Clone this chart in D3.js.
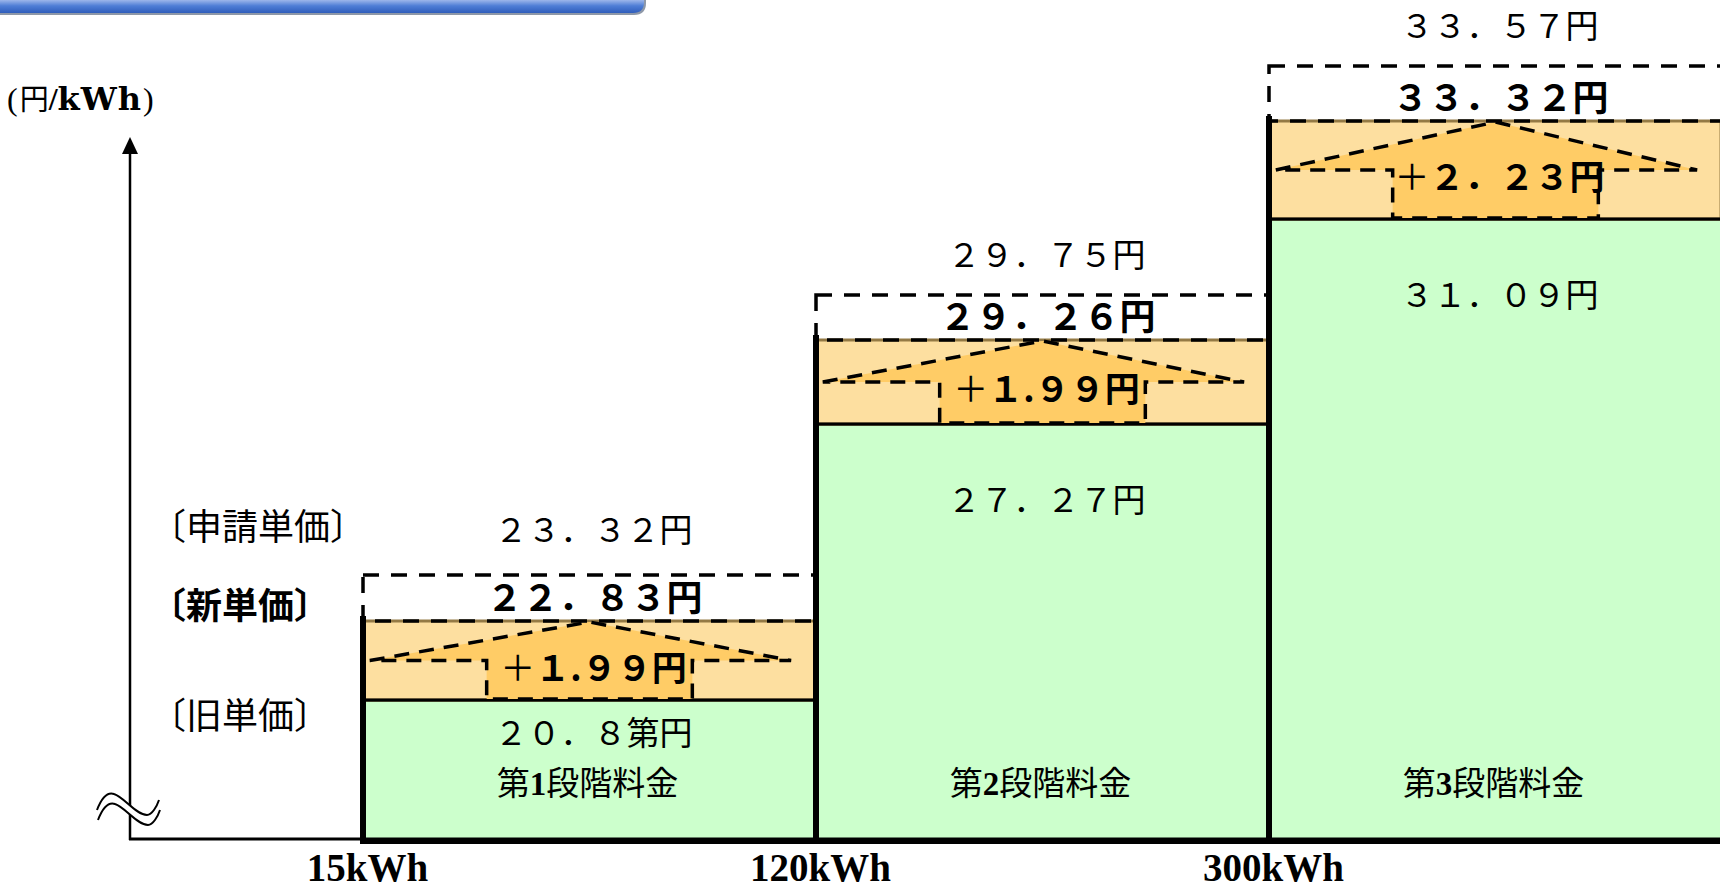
<!DOCTYPE html>
<html><head><meta charset="utf-8">
<script src="https://cdn.jsdelivr.net/npm/d3@7"></script>
<style>html,body{margin:0;padding:0;background:#fff;overflow:hidden}</style>
</head><body><svg id="c" width="1720" height="890"></svg>
<script>
// ---------- data ----------
const tiers = ["第1段階料金", "第2段階料金", "第3段階料金"];
const tierNums = ["1", "2", "3"];
const tierLimits = ["15kWh", "120kWh", "300kWh"];
const oldPrice = [20.84, 27.27, 31.09];        // 旧単価
const newPrice = [22.83, 29.26, 33.32];        // 新単価
const requestedPrice = [23.32, 29.75, 33.57];  // 申請単価
const oldLabels = ["２０．８第円", "２７．２７円", "３１．０９円"];
const newLabels = ["２２．８３円", "２９．２６円", "３３．３２円"];
const requestedLabels = ["２３．３２円", "２９．７５円", "３３．５７円"];
const increaseLabels = ["１.９９円", "１.９９円", "２．２３円"];
const rowLabels = ["〔申請単価〕", "〔新単価〕", "〔旧単価〕"];
const axisFloor = 17; // value at the broken baseline (≈)

// ---------- layout ----------
const W = 1720, H = 890;
const X0 = 363, BW = 453;
const BASE = 839;
const CJK = "'Noto Sans CJK JP','Noto Sans',sans-serif";
const SERIF = "'Liberation Serif','DejaVu Serif',serif";
const GREEN = "#CCFFCC", ORANGE = "#FDDFA0", ARROW = "#FFCC66", BROWN = "#947A45";

const svg = d3.select("#c");

// schematic (piecewise) value scale, as in the original figure
const levels = [axisFloor, ...oldPrice, ...newPrice, ...requestedPrice].sort((a, b) => a - b);
const y = d3.scaleLinear().domain(levels).range([BASE, 700, 621, 575, 424, 340, 295, 219, 121, 66]);
const x = d3.scaleBand().domain(tiers).range([X0, X0 + BW * 3]).padding(0);
const xLim = d3.scalePoint().domain(tierLimits).range([X0, X0 + BW * 2]);

const rows = tiers.map((t, i) => ({
  t, i, num: tierNums[i], o: oldPrice[i], n: newPrice[i], r: requestedPrice[i],
  ol: oldLabels[i], nl: newLabels[i], rl: requestedLabels[i], il: increaseLabels[i]
}));

// ---------- header bar ----------
const defs = svg.append("defs");
const g = defs.append("linearGradient").attr("id", "hdr").attr("x1", 0).attr("y1", 0).attr("x2", 0).attr("y2", 1);
g.append("stop").attr("offset", "0%").attr("stop-color", "#9DB6EA");
g.append("stop").attr("offset", "45%").attr("stop-color", "#4F7ED6");
g.append("stop").attr("offset", "100%").attr("stop-color", "#2F5DBB");
svg.append("path").attr("d", "M0,0 H646 V3 Q646,15 634,15 H0 Z").attr("fill", "#8E98A8");
svg.append("path").attr("d", "M0,0 H644 V2 Q644,13 633,13 H0 Z").attr("fill", "url(#hdr)");

// ---------- y axis ----------
svg.append("line").attr("x1", 130).attr("x2", 130).attr("y1", BASE + 1).attr("y2", 150)
  .attr("stroke", "#000").attr("stroke-width", 2.5);
svg.append("path").attr("d", "M130,137 L122,154 L138,154 Z").attr("fill", "#000");
svg.append("line").attr("x1", 129).attr("x2", X0).attr("y1", BASE).attr("y2", BASE)
  .attr("stroke", "#000").attr("stroke-width", 3);

// break symbol
const up = "M97,810 C102,797 108,792 114,794 C124,797 136,815 147,815 C152,815 157,806 159,800";
const lo = "M98,820 C103,807 109,802 115,804 C125,807 137,825 148,825 C153,825 158,816 160,810";
svg.append("path").attr("d", up + " L160,810 C158,816 153,825 148,825 C137,825 125,807 115,804 C109,802 103,807 98,820 Z")
  .attr("fill", "#fff");
svg.append("path").attr("d", up).attr("fill", "none").attr("stroke", "#000").attr("stroke-width", 2);
svg.append("path").attr("d", lo).attr("fill", "none").attr("stroke", "#000").attr("stroke-width", 2);

// ---------- bars ----------
const bars = svg.append("g");
bars.selectAll("rect.old").data(rows).join("rect").attr("class", "old")
  .attr("x", d => x(d.t)).attr("width", x.bandwidth())
  .attr("y", d => y(d.o)).attr("height", d => y(axisFloor) - y(d.o))
  .attr("fill", GREEN).attr("stroke", "#000").attr("stroke-width", 3);
bars.selectAll("rect.new").data(rows).join("rect").attr("class", "new")
  .attr("x", d => x(d.t) + 1).attr("width", x.bandwidth() - 2)
  .attr("y", d => y(d.n)).attr("height", d => y(d.o) - y(d.n))
  .attr("fill", ORANGE).attr("stroke", BROWN).attr("stroke-width", 3);
bars.selectAll("line.sep").data(rows).join("line").attr("class", "sep")
  .attr("x1", d => x(d.t)).attr("x2", d => x(d.t) + x.bandwidth())
  .attr("y1", d => y(d.o)).attr("y2", d => y(d.o))
  .attr("stroke", "#000").attr("stroke-width", 3);

// up arrows (increase)
const arrowPts = d => {
  const x0 = x(d.t), w = x.bandwidth(), cx = x0 + w / 2;
  const yt = y(d.n) + 1, yb = y(d.o) - 1, ym = (y(d.n) + y(d.o)) / 2, hs = w * 0.227;
  return [[x0 + w * 0.015, ym], [cx, yt], [x0 + w * 0.945, ym], [cx + hs, ym], [cx + hs, yb], [cx - hs, yb], [cx - hs, ym]];
};
bars.selectAll("path.arrow").data(rows).join("path").attr("class", "arrow")
  .attr("d", d => d3.line()(arrowPts(d)) + "Z")
  .attr("fill", ARROW).attr("stroke", "none");
bars.selectAll("path.arrowline").data(rows).join("path").attr("class", "arrowline")
  .attr("d", d => d3.line()(arrowPts(d)) + "Z")
  .attr("fill", "none").attr("stroke", "#000").attr("stroke-width", 3.5)
  .attr("stroke-dasharray", "15 10").attr("stroke-linejoin", "miter");

// requested price dashed boxes
bars.selectAll("rect.req").data(rows).join("rect").attr("class", "req")
  .attr("x", d => x(d.t)).attr("width", x.bandwidth())
  .attr("y", d => y(d.r)).attr("height", d => y(d.n) - y(d.r))
  .attr("fill", "none").attr("stroke", "#000").attr("stroke-width", 3.5)
  .attr("stroke-dasharray", "16 12");

// thick left borders of each step
bars.selectAll("line.edge").data(rows).join("line").attr("class", "edge")
  .attr("x1", d => x(d.t)).attr("x2", d => x(d.t))
  .attr("y1", d => y(d.n) - 5).attr("y2", BASE + 5)
  .attr("stroke", "#000").attr("stroke-width", 6);
svg.append("line").attr("x1", X0 - 3).attr("x2", W).attr("y1", BASE + 2).attr("y2", BASE + 2)
  .attr("stroke", "#000").attr("stroke-width", 6);

// ---------- x axis labels ----------
const xa = svg.append("g").attr("transform", `translate(4,${BASE + 4})`)
  .call(d3.axisBottom(xLim).tickSize(0).tickPadding(0));
xa.select(".domain").remove();
xa.selectAll("text").attr("y", 38).attr("dy", 0)
  .attr("font-family", SERIF).attr("font-weight", "bold").attr("font-size", 39).attr("fill", "#000");

// ---------- row labels ----------
const rowY = [y(requestedPrice[0]) - 35, y(newPrice[0]) - 2, y(oldPrice[0]) + 29];
svg.append("g").selectAll("text").data(rowLabels).join("text")
  .attr("x", 150).attr("y", (d, i) => rowY[i])
  .attr("font-family", CJK).attr("font-size", 36)
  .attr("font-weight", (d, i) => i === 1 ? "bold" : "normal")
  .attr("fill", "#000").text(d => d);

// ---------- value labels ----------
const lab = svg.append("g").attr("fill", "#000").attr("font-family", CJK).attr("text-anchor", "middle");
const cxOf = d => x(d.t) + x.bandwidth() / 2;
lab.selectAll("text.req").data(rows).join("text").attr("class", "req")
  .attr("x", d => cxOf(d) + 4).attr("y", d => d.i === 0 ? rowY[0] + 2 : y(d.r) - 28)
  .attr("font-size", 33).text(d => d.rl);
lab.selectAll("text.new").data(rows).join("text").attr("class", "new")
  .attr("x", d => cxOf(d) + 5).attr("y", d => y(d.n) - 10)
  .attr("font-size", 36).attr("font-weight", "bold").text(d => d.nl);
const inc = lab.selectAll("text.inc").data(rows).join("text").attr("class", "inc")
  .attr("x", d => cxOf(d) + 4).attr("y", d => (y(d.n) + y(d.o)) / 2 + 20)
  .attr("font-size", 35);
inc.append("tspan").attr("font-weight", "normal").text("＋");
inc.append("tspan").attr("font-weight", "bold").text(d => d.il);
const TIER_Y = 795;
lab.selectAll("text.old").data(rows).join("text").attr("class", "old")
  .attr("x", d => cxOf(d) + 4).attr("y", d => Math.min(y(d.o) + 88, TIER_Y - 50))
  .attr("font-size", 33).text(d => d.ol);
const tl = lab.selectAll("text.tier").data(rows).join("text").attr("class", "tier")
  .attr("x", d => cxOf(d) - 2).attr("y", TIER_Y).attr("font-size", 33);
tl.append("tspan").text("第");
tl.append("tspan").attr("font-family", SERIF).attr("font-weight", "bold").text(d => d.num);
tl.append("tspan").text(d => d.t.replace("第" + d.num, ""));

// ---------- unit label ----------
const ul = svg.append("text").attr("x", 7).attr("y", 110).attr("fill", "#000");
ul.append("tspan").attr("font-family", SERIF).attr("font-size", 32).text("(");
ul.append("tspan").attr("font-family", CJK).attr("font-size", 29).attr("dx", 2).text("円");
ul.append("tspan").attr("font-family", SERIF).attr("font-weight", "bold").attr("font-size", 32).text("/");
ul.append("tspan").attr("font-family", "'DejaVu Serif',serif").attr("font-weight", "bold").attr("font-size", 32)
  .attr("letter-spacing", 1).text("kWh");
ul.append("tspan").attr("font-family", SERIF).attr("font-size", 32).attr("dx", 1).text(")");
</script></body></html>
